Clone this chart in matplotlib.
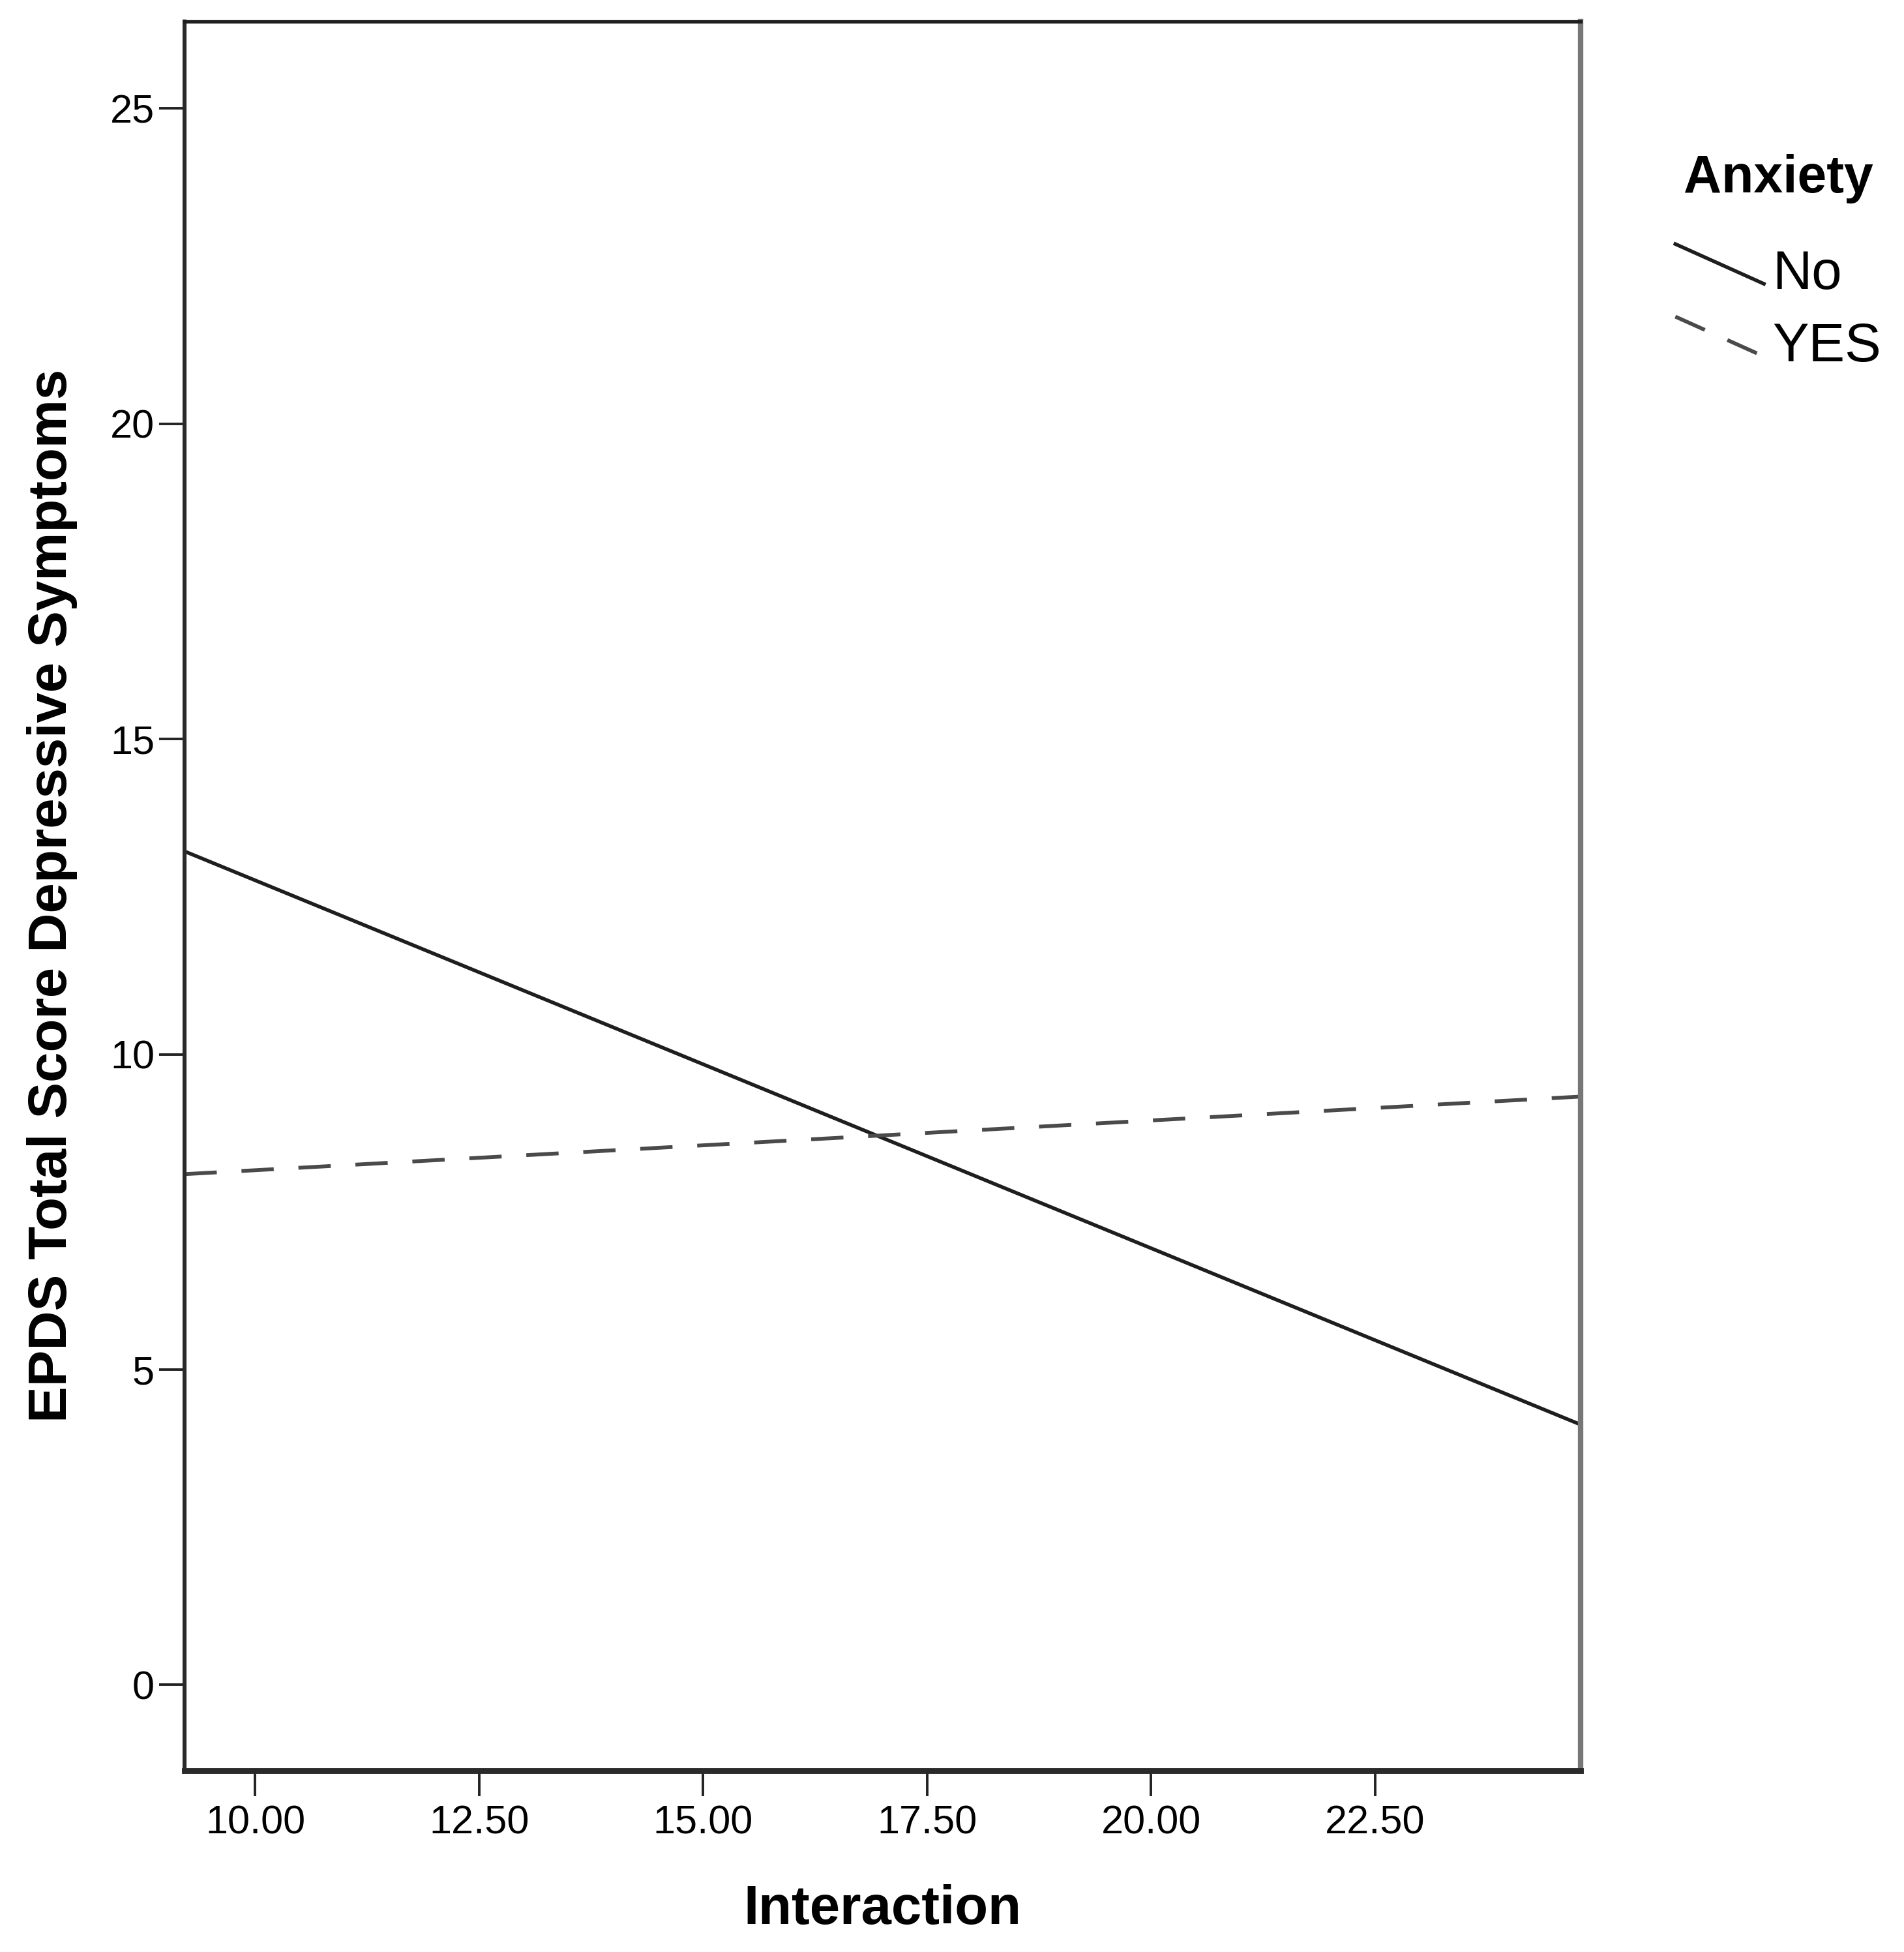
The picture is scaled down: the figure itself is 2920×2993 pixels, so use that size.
import matplotlib
matplotlib.use('Agg')
import matplotlib.pyplot as plt
from matplotlib.lines import Line2D
from matplotlib.legend_handler import HandlerLine2D

plt.rcParams['font.family'] = ['Liberation Sans', 'DejaVu Sans']

# fitted lines (ends of the x range)
interaction = [9.21, 24.79]
no_anxiety = [13.22, 4.13]
yes_anxiety = [8.10, 9.33]

x_ticks = [10.0, 12.5, 15.0, 17.5, 20.0, 22.5]
y_ticks = [0, 5, 10, 15, 20, 25]


class DiagonalHandler(HandlerLine2D):
    # SPSS draws the legend keys as short slanted strokes
    def create_artists(self, legend, orig_handle, xdescent, ydescent,
                       width, height, fontsize, trans):
        line = Line2D([-xdescent, -xdescent + width],
                      [-ydescent + height * 1.15, -ydescent + height * 0.15])
        self.update_prop(line, orig_handle, legend)
        line.set_transform(trans)
        return [line]


fig = plt.figure(figsize=(14.6, 14.965), dpi=200)
ax = fig.add_axes([0.0969, 0.0929, 0.7331, 0.8961])

ax.plot(interaction, no_anxiety, color='#1e1e1e', lw=2.0, label='No')
ax.plot(interaction, yes_anxiety, color='#4a4a4a', lw=2.1,
        dashes=(8.5, 6.5), label='YES')

ax.set_xlim(9.21, 24.79)
ax.set_ylim(-1.36, 26.38)
ax.set_xticks(x_ticks)
ax.set_xticklabels([f'{v:.2f}' for v in x_ticks])
ax.set_yticks(y_ticks)
ax.tick_params(axis='both', direction='out', length=14, width=1.4,
               labelsize=22, color='#222222')
ax.tick_params(axis='x', pad=5)
ax.tick_params(axis='y', pad=2.5)

ax.spines['left'].set_linewidth(2.2)
ax.spines['left'].set_color('#2a2a2a')
ax.spines['top'].set_linewidth(1.9)
ax.spines['top'].set_color('#1e1e1e')
ax.spines['bottom'].set_linewidth(3.2)
ax.spines['bottom'].set_color('#2a2a2a')
ax.spines['right'].set_linewidth(3.0)
ax.spines['right'].set_color('#777777')

ax.set_xlabel('Interaction', fontsize=30, fontweight='bold', labelpad=23)
ax.set_ylabel('EPDS Total Score Depressive Symptoms', fontsize=30,
              fontweight='bold', labelpad=18)

leg = ax.legend(loc='upper center', bbox_to_anchor=(0.934, 0.921),
                bbox_transform=fig.transFigure, frameon=False,
                title='Anxiety', fontsize=30, handlelength=1.63,
                handleheight=0.75, handletextpad=0.16, labelspacing=0.4,
                borderpad=0, borderaxespad=0,
                handler_map={Line2D: DiagonalHandler()})
leg.get_title().set_fontweight('bold')
leg.get_title().set_fontsize(29)
leg._legend_box.sep = 25

fig.savefig('out.png', dpi=200)
